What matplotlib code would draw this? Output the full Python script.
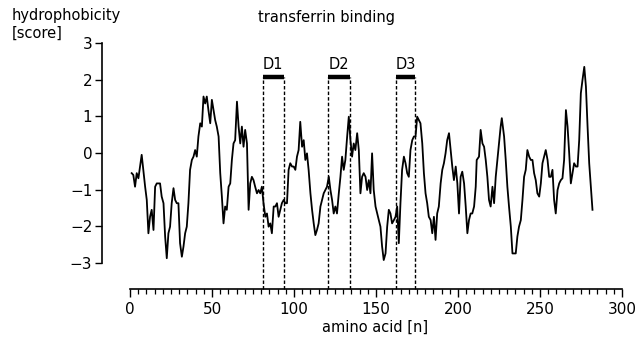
import matplotlib
matplotlib.use("Agg")
import matplotlib.pyplot as plt
from matplotlib.ticker import FixedLocator

# ---- data ----
residue = [1.0, 2.0, 3.05, 4.07, 5.1, 6.1, 7.1, 8.1, 9.2, 10.2, 11.2, 12.2, 13.2, 14.3, 15.3,
           16.3, 18.3, 19.3, 20.4, 21.4, 22.4, 23.4, 24.4, 25.4, 26.5, 27.5, 28.5, 29.5, 30.5,
           31.6, 32.6, 33.6, 34.6, 35.6, 36.6, 37.7, 38.7, 39.7, 40.7, 41.7, 42.8, 43.8, 44.8,
           45.8, 46.8, 47.8, 48.9, 49.9, 50.9, 51.9, 52.9, 54.0, 55.0, 56.0, 57.0, 58.0, 59.0,
           60.1, 61.1, 62.1, 63.1, 64.1, 65.2, 66.2, 67.2, 68.2, 69.2, 70.2, 71.3, 72.3, 73.3,
           74.3, 75.3, 76.3, 77.4, 78.4, 79.4, 80.4, 81.4, 82.5, 83.5, 84.5, 85.5, 86.5, 87.6,
           88.6, 89.6, 90.6, 91.6, 92.6, 93.7, 94.7, 95.7,
           96.7, 97.7, 98.8, 99.8, 100.8, 101.8, 102.8, 103.8, 104.9, 105.9, 106.9, 107.9,
           108.9, 110.0, 111.0, 112.0, 113.0, 114.0, 115.0, 116.1, 117.1, 118.1, 119.1, 120.1,
           121.2, 122.2, 123.2, 124.2, 125.2, 126.2, 127.3, 128.3, 129.3, 130.3, 131.3, 132.4,
           133.4, 134.4, 135.4, 136.4, 137.4, 138.5, 139.5, 140.5, 141.5, 142.5, 143.6, 144.6,
           145.6, 146.6, 147.6, 148.6, 149.7, 150.7, 151.7, 152.7, 153.7, 154.7, 155.8, 156.8,
           157.8, 158.8, 159.8, 160.9, 161.9, 162.9, 163.9, 164.9, 165.9, 167.0, 168.0, 169.0,
           170.0, 171.0, 172.1, 173.1, 174.1, 175.1, 176.1, 177.1, 178.2, 179.2, 180.2, 181.2,
           182.2, 183.3, 184.3, 185.3, 186.3, 187.3, 188.3, 189.4, 190.4, 191.4, 192.4, 193.4,
           194.5,
           195.5, 196.5, 197.5, 198.6, 199.6, 200.6, 201.6, 202.6, 203.7, 204.7, 205.7, 206.7,
           207.7, 208.7, 209.8, 210.8, 211.4, 212.8, 213.8, 214.9, 215.9, 216.9, 217.9, 218.9,
           219.9, 221.0, 222.0, 223.0, 224.0, 225.0, 226.0, 226.7, 228.1, 229.1, 230.1, 231.1,
           232.2, 233.2, 235.2, 236.2, 237.2, 238.3, 239.3, 240.3, 241.3, 242.3, 243.4, 244.4,
           245.4, 246.4, 247.4, 248.4, 249.5, 250.5, 251.5, 252.5, 253.5, 254.6, 255.6, 256.6,
           257.6, 258.6, 259.6, 260.7, 261.7, 262.7, 263.7, 264.7, 265.8, 266.8, 267.8, 268.8,
           269.8, 270.8, 271.9, 272.9, 273.9, 274.9, 275.9, 277.0, 278.0, 279.0, 280.0, 281.0,
           282.0]
score = [-0.55, -0.60, -0.92, -0.55, -0.69, -0.37, -0.05, -0.46, -0.92, -1.28, -2.19, -1.74,
         -1.55, -2.10, -0.92, -0.83, -0.83, -1.19, -1.37, -2.28, -2.87, -2.19, -2.01, -1.37,
         -0.96, -1.28, -1.37, -1.37, -2.46, -2.83, -2.55, -2.19, -2.01, -1.37, -0.46, -0.19,
         -0.10, 0.08, -0.10, 0.45, 0.81, 0.72, 1.54, 1.35, 1.54, 1.17, 0.81, 1.45, 1.17, 0.90,
         0.72, 0.45, -0.55, -1.19, -1.92, -1.46, -1.55, -0.92, -0.83, -0.19, 0.26, 0.35, 1.40,
         0.72, 0.26, 0.72, 0.17, 0.63, 0.26, -1.55, -0.83, -0.65, -0.74, -0.92, -1.10, -1.01,
         -1.10, -0.92, -1.37, -1.74, -1.65, -2.01, -1.92, -2.19, -1.46, -1.46, -1.37, -1.74,
         -1.55, -1.37, -1.28, -1.37, -1.37,
         -0.46, -0.28, -0.37, -0.37, -0.46, -0.10, 0.08, 0.85, 0.17, 0.35, -0.19, -0.01,
         -0.46, -1.10, -1.55, -1.92, -2.24, -2.10, -1.92, -1.46, -1.28, -1.10, -1.01, -0.92,
         -0.65, -1.01, -1.28, -1.65, -1.46, -1.65, -1.10, -0.65, -0.10, -0.46, -0.19, 0.45,
         0.99, 0.35, -0.10, 0.26, 0.08, 0.54, 0.08, -1.10, -0.65, -0.55, -0.65, -1.01,
         -0.74, -1.10, -0.01, -1.01, -1.46, -1.65, -1.83, -2.01, -2.55, -2.92, -2.74, -2.01,
         -1.55, -1.65, -1.92, -1.83, -1.74, -1.46, -2.46, -1.37, -0.46, -0.10, -0.28, -0.55,
         -0.65, 0.08, 0.35, 0.45, 0.45, 0.99, 0.90, 0.81, 0.26, -0.55, -1.10, -1.37,
         -1.74, -1.83, -2.19, -1.74, -2.37, -1.65, -1.46, -0.83, -0.46, -0.28, -0.01, 0.35,
         0.54,
         0.08, -0.37, -0.74, -0.37, -0.83, -1.65, -0.65, -0.51, -0.83, -1.46, -2.19, -1.83,
         -1.65, -1.65, -1.46, -0.92, -0.19, -0.10, 0.63, 0.26, 0.17, -0.19, -0.65, -1.28,
         -1.46, -0.92, -1.37, -0.65, -0.19, 0.26, 0.72, 0.95, 0.45, -0.19, -0.92, -1.46,
         -2.01, -2.74, -2.74, -2.28, -2.01, -1.83, -1.28, -0.65, -0.46, 0.08, -0.10, -0.19,
         -0.19, -0.55, -0.74, -1.10, -1.19, -0.83, -0.28, -0.10, 0.08, -0.19, -0.65, -0.65,
         -0.46, -1.28, -1.65, -1.01, -0.83, -0.74, -0.69, -0.19, 1.17, 0.72, -0.01, -0.83,
         -0.55, -0.28, -0.37, -0.37, 0.35, 1.63, 1.99, 2.35, 1.81, 0.72, -0.28, -0.92,
         -1.55]

domain_names = ["D1", "D2", "D3"]
domain_starts = [81, 121, 162]
domain_ends = [94, 134, 174]

x_ticks = [0, 50, 100, 150, 200, 250, 300]
x_minor_step = 5
y_ticks = [-3, -2, -1, 0, 1, 2, 3]

# ---- figure ----
W, H = 639, 348
fig = plt.figure(figsize=(W / 100, H / 100), dpi=100)
plt.rcParams['font.family'] = ['DejaVu Sans']

ax_l, ax_r, ax_t, ax_b = 102, 622, 43, 289
ax = fig.add_axes([ax_l / W, 1 - ax_b / H, (ax_r - ax_l) / W, (ax_b - ax_t) / H])
ax.set_xlim(-17.1, 300)
ax.set_ylim(-3.71, 3.0)

ax.plot(residue, score, color='black', lw=1.3, solid_joinstyle='round', clip_on=False)

bar_y = 2.07
for name, s, e in zip(domain_names, domain_starts, domain_ends):
    ax.plot([s, e], [bar_y, bar_y], color='black', lw=3.2, solid_capstyle='butt', clip_on=False)
    for xv in (s, e):
        ax.plot([xv, xv], [-3.71, bar_y], color='black', lw=1.0, ls=(0, (2.5, 1.5)), clip_on=False)
    ax.text(s, bar_y + 0.13, name, ha='left', va='bottom', fontsize=10.5)

for side in ('top', 'right'):
    ax.spines[side].set_visible(False)
ax.spines['left'].set_bounds(y_ticks[0], y_ticks[-1])
ax.spines['bottom'].set_bounds(x_ticks[0], x_ticks[-1])
ax.spines['left'].set_linewidth(1.2)
ax.spines['bottom'].set_linewidth(1.2)

ax.set_xticks(x_ticks)
minor = [v for v in range(x_ticks[0], x_ticks[-1] + 1, x_minor_step) if v not in x_ticks]
ax.xaxis.set_minor_locator(FixedLocator(minor))
ax.set_yticks(y_ticks)
ax.set_yticklabels([str(v).replace('-', '\u2212') for v in y_ticks])
ax.tick_params(axis='x', which='major', direction='out', length=6, width=1.0, pad=3, labelsize=11)
ax.tick_params(axis='x', which='minor', direction='out', length=3.5, width=0.9)
ax.tick_params(axis='y', which='major', direction='out', length=5, width=1.0, pad=2, labelsize=11)

fig.text(12 / W, 1 - 20 / H, "hydrophobicity", ha='left', va='baseline', fontsize=10.5)
fig.text(12 / W, 1 - 38 / H, "[score]", ha='left', va='baseline', fontsize=10.5)
fig.text(258 / W, 1 - 22 / H, "transferrin binding", ha='left', va='baseline', fontsize=10.5)
fig.text(375 / W, 1 - 332 / H, "amino acid [n]", ha='center', va='baseline', fontsize=10.5)

fig.savefig("out.png", dpi=100)
